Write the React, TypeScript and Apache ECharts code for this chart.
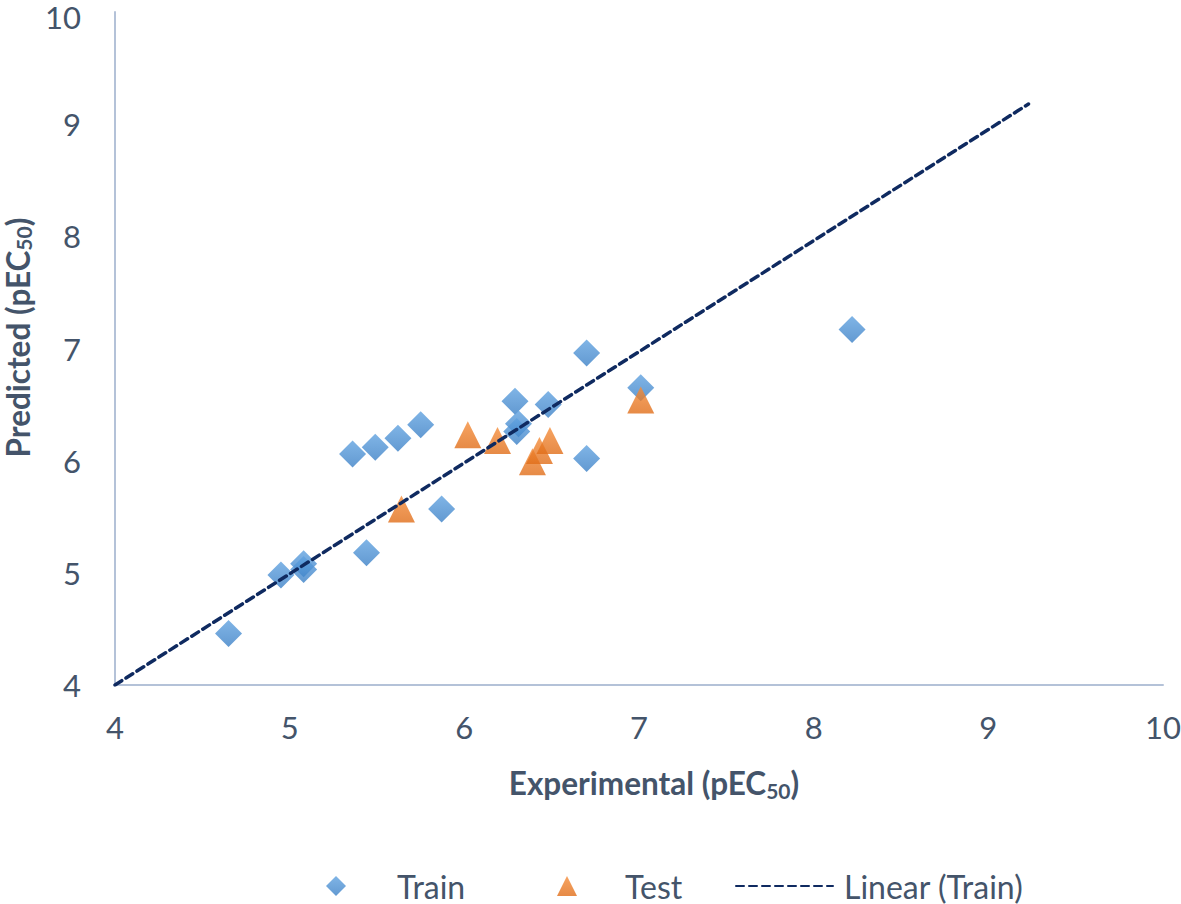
import React, { useEffect, useRef } from "react";
import * as echarts from "echarts";

const trainX = [4.65, 4.95, 5.08, 5.08, 5.44, 5.87, 5.36, 5.49, 5.62, 5.75, 6.29, 6.31, 6.30, 6.48, 6.70, 6.70, 7.01, 8.22];
const trainY = [4.46, 4.98, 5.08, 5.03, 5.18, 5.57, 6.06, 6.12, 6.20, 6.32, 6.53, 6.33, 6.26, 6.50, 6.02, 6.96, 6.65, 7.17];
const testX = [5.64, 6.02, 6.19, 6.39, 6.43, 6.49, 7.01];
const testY = [5.57, 6.23, 6.18, 5.99, 6.09, 6.18, 6.54];
const trendX = [4.0, 9.23];
const trendY = [4.0, 9.18];
const axisMin = 4;
const axisMax = 10;
const axisStep = 1;

const TEXT = "#44546a";
const FONT = "Lato";

export default function App() {
  const ref = useRef<HTMLDivElement>(null);
  useEffect(() => {
    if (!ref.current) return;
    const chart = echarts.init(ref.current, null, { renderer: "svg" });
    const blue = new echarts.graphic.LinearGradient(0, 0, 0, 1, [
      { offset: 0, color: "#60a2e0" },
      { offset: 1, color: "#3b80c6" },
    ]);
    const orange = new echarts.graphic.LinearGradient(0, 0, 0, 1, [
      { offset: 0, color: "#f58d3a" },
      { offset: 1, color: "#e06d18" },
    ]);
    const axisCommon = {
      type: "value" as const,
      min: axisMin,
      max: axisMax,
      interval: axisStep,
      splitLine: { show: false },
      axisTick: { show: false },
      axisLine: { show: true, lineStyle: { color: "#b4c2d8", width: 2 } },
      axisLabel: { color: TEXT, fontSize: 31, fontFamily: FONT, lineHeight: 24 },
    };
    const richX = {
      a: { fontSize: 31.5, fontWeight: "bold" as const, fontFamily: FONT, color: TEXT, lineHeight: 36 },
      s: { fontSize: 21, fontWeight: "bold" as const, fontFamily: FONT, color: TEXT, lineHeight: 20, verticalAlign: "bottom" as const },
    };
    const richY = {
      a: { fontSize: 31.5, fontWeight: "bold" as const, fontFamily: FONT, color: TEXT, lineHeight: 32 },
      s: { fontSize: 21, fontWeight: "bold" as const, fontFamily: FONT, color: TEXT, lineHeight: 18, verticalAlign: "bottom" as const },
    };
    const legendBase = {
      top: 869,
      padding: 0,
      itemHeight: 20,
    };
    const legendText = { color: TEXT, fontSize: 32, fontFamily: FONT, lineHeight: 34 };
    chart.setOption({
      animation: false,
      grid: { left: 115, top: 12, right: 18, bottom: 219, outerBoundsMode: "none", containLabel: false },
      xAxis: {
        ...axisCommon,
        axisLabel: { ...axisCommon.axisLabel, margin: 30 },
        name: "{a|Experimental (pEC}{s|50}{a|)}",
        nameLocation: "middle",
        nameGap: 80,
        nameTextStyle: { rich: richX, padding: [0, 0, 0, 30] },
      },
      yAxis: {
        ...axisCommon,
        axisLabel: {
          ...axisCommon.axisLabel,
          margin: 34,
          formatter: (v: number) => (v === axisMax ? "{t|" + v + "}" : String(v)),
          rich: {
            t: { color: TEXT, fontSize: 31, fontFamily: FONT, lineHeight: 24, padding: [10, 0, 0, 0] },
          },
        },
        name: "{a|Predicted (pEC}{s|50}{a|)}",
        nameLocation: "middle",
        nameRotate: 90,
        nameGap: 80,
        nameTextStyle: { rich: richY, padding: [0, 0, 0, 22] },
      },
      legend: [
        {
          ...legendBase,
          left: 326,
          itemWidth: 20,
          data: [{ name: "Train", icon: "diamond" }],
          textStyle: { ...legendText, padding: [0, 0, 0, 46] },
        },
        {
          ...legendBase,
          left: 557,
          itemWidth: 20,
          data: [{ name: "Test", icon: "triangle" }],
          textStyle: { ...legendText, padding: [0, 0, 0, 43] },
        },
        {
          ...legendBase,
          left: 735,
          itemWidth: 97,
          itemStyle: { opacity: 0 },
          data: [{ name: "Linear (Train)" }],
          textStyle: { ...legendText, padding: [0, 0, 0, 6] },
        },
      ],
      series: [
        {
          name: "Train",
          type: "scatter",
          symbol: "diamond",
          symbolSize: 27,
          itemStyle: { color: blue },
          data: trainX.map((x, i) => [x, trainY[i]]),
        },
        {
          name: "Test",
          type: "scatter",
          symbol: "triangle",
          symbolSize: 27,
          itemStyle: { color: orange },
          data: testX.map((x, i) => [x, testY[i]]),
        },
        {
          name: "Linear (Train)",
          type: "line",
          symbol: "none",
          showSymbol: false,
          lineStyle: { color: "#0f2a60", width: 3.5, type: [8, 5], cap: "round" },
          itemStyle: { color: "#0f2a60" },
          data: trendX.map((x, i) => [x, trendY[i]]),
        },
      ],
    });
    return () => chart.dispose();
  }, []);
  return (
    <div
      ref={ref}
      style={{ position: "absolute", left: 0, top: 0, width: 1181, height: 904, background: "#fff" }}
    />
  );
}
